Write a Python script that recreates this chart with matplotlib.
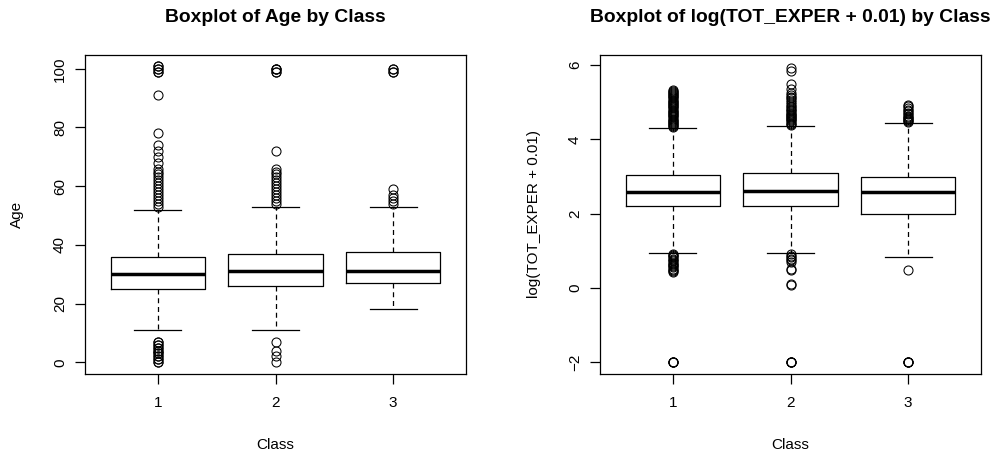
import matplotlib
matplotlib.use("Agg")
import matplotlib.pyplot as plt

plt.rcParams['font.family'] = ['Liberation Sans', 'DejaVu Sans']

classes = ["1", "2", "3"]

# Age by class: five-number summaries
age_lo_whisker = [11, 11, 18]
age_q1 = [25, 26, 27]
age_med = [30, 31, 31]
age_q3 = [36, 37, 37.5]
age_hi_whisker = [52, 53, 53]
age_outliers = [
    [0, 0, 1, 1, 2, 2, 3, 3, 4, 4, 5, 5, 6, 6, 7, 7,
     53, 54, 55, 56, 57, 58, 59, 60, 61, 62, 63, 64, 65, 66, 68, 70, 72, 74,
     78, 91, 99, 99, 100, 100, 101, 101],
    [0, 2, 4, 7, 54, 55, 56, 57, 58, 59, 60, 61, 62, 63, 64, 65, 66, 72,
     99, 99, 100, 100, 100],
    [54, 55, 56, 57, 59, 99, 99, 100, 100],
]

# log(TOT_EXPER + 0.01) by class
lx_lo_whisker = [0.94, 0.93, 0.83]
lx_q1 = [2.2, 2.2, 2.0]
lx_med = [2.58, 2.62, 2.57]
lx_q3 = [3.03, 3.08, 2.98]
lx_hi_whisker = [4.30, 4.37, 4.43]
lx_outliers = [
    [-2, -2, -2, -2, 0.42, 0.45, 0.48, 0.52, 0.55, 0.58, 0.62, 0.65, 0.68,
     0.72, 0.75, 0.78, 0.82, 0.85, 0.88, 0.91,
     4.32, 4.35, 4.38, 4.41, 4.44, 4.47, 4.5, 4.53, 4.56, 4.59, 4.62, 4.65,
     4.68, 4.71, 4.74, 4.77, 4.8, 4.83, 4.86, 4.89, 4.92, 4.95, 4.98, 5.01,
     5.04, 5.07, 5.1, 5.13, 5.16, 5.19, 5.22, 5.25, 5.28, 5.3, 5.32],
    [-2, -2, -2, -2, 0.08, 0.1, 0.48, 0.5, 0.7, 0.74, 0.78, 0.82, 0.86, 0.9,
     4.39, 4.42, 4.45, 4.48, 4.51, 4.54, 4.57, 4.6, 4.63, 4.66, 4.69, 4.72,
     4.75, 4.78, 4.82, 4.86, 4.9, 4.95, 5.0, 5.05, 5.1, 5.15, 5.2, 5.25,
     5.35, 5.5, 5.85, 5.93],
    [-2, -2, -2, -2, 0.47, 4.46, 4.49, 4.52, 4.55, 4.58, 4.61, 4.64, 4.68,
     4.72, 4.76, 4.8, 4.85, 4.9, 4.93],
]

W, H = 996, 455
fig = plt.figure(figsize=(W / 100, H / 100), dpi=100)

LW = 0.9
FS = 11


def make_stats(lo, q1, med, q3, hi, fl):
    return [dict(whislo=lo[i], q1=q1[i], med=med[i], q3=q3[i], whishi=hi[i],
                 fliers=fl[i], label=classes[i]) for i in range(len(classes))]


def draw(ax_px, stats, ylim, yticks, title, ylabel, ylab_x):
    x0, y0, x1, y1 = ax_px
    ax = fig.add_axes([x0 / W, 1 - y1 / H, (x1 - x0) / W, (y1 - y0) / H])
    ax.bxp(stats, widths=0.8, capwidths=0.4, patch_artist=False,
           boxprops=dict(color='black', linewidth=LW),
           whiskerprops=dict(color='black', linewidth=LW, linestyle=(0, (4, 3))),
           capprops=dict(color='black', linewidth=LW),
           medianprops=dict(color='black', linewidth=2.5, solid_capstyle='butt'),
           flierprops=dict(marker='o', markerfacecolor='none', markeredgecolor='black',
                           markersize=6.5, markeredgewidth=0.75, linestyle='none'))
    ax.set_xlim(0.38, 3.62)
    ax.set_ylim(*ylim)
    ax.set_yticks(yticks)
    ax.set_yticklabels([str(t) if t >= 0 else '\u2212' + str(-t) for t in yticks],
                       rotation=90, va='center')
    ax.set_xticks([1, 2, 3])
    ax.set_xticklabels(classes)
    ax.tick_params(direction='out', length=7, width=LW, labelsize=FS, colors='black')
    ax.tick_params(axis='x', pad=8.5)
    ax.tick_params(axis='y', pad=6)
    for s in ax.spines.values():
        s.set_linewidth(LW)
        s.set_color('black')
    cx = (x0 + x1) / 2
    fig.text(cx / W, 1 - 17 / H, title, ha='center', va='center',
             fontsize=13.9, fontweight='bold')
    fig.text(cx / W, 1 - 445 / H, 'Class', ha='center', va='center', fontsize=FS)
    fig.text(ylab_x / W, 1 - ((y0 + y1) / 2) / H, ylabel, ha='center', va='center',
             rotation=90, fontsize=FS)
    return ax


draw((85, 55, 466, 374),
     make_stats(age_lo_whisker, age_q1, age_med, age_q3, age_hi_whisker, age_outliers),
     (-4.0, 104.7), [0, 20, 40, 60, 80, 100], 'Boxplot of Age by Class', 'Age', 17)

draw((600, 55, 981, 374),
     make_stats(lx_lo_whisker, lx_q1, lx_med, lx_q3, lx_hi_whisker, lx_outliers),
     (-2.32, 6.27), [-2, 0, 2, 4, 6], 'Boxplot of log(TOT_EXPER + 0.01) by Class',
     'log(TOT_EXPER + 0.01)', 534)

fig.savefig('out.png', dpi=100)
